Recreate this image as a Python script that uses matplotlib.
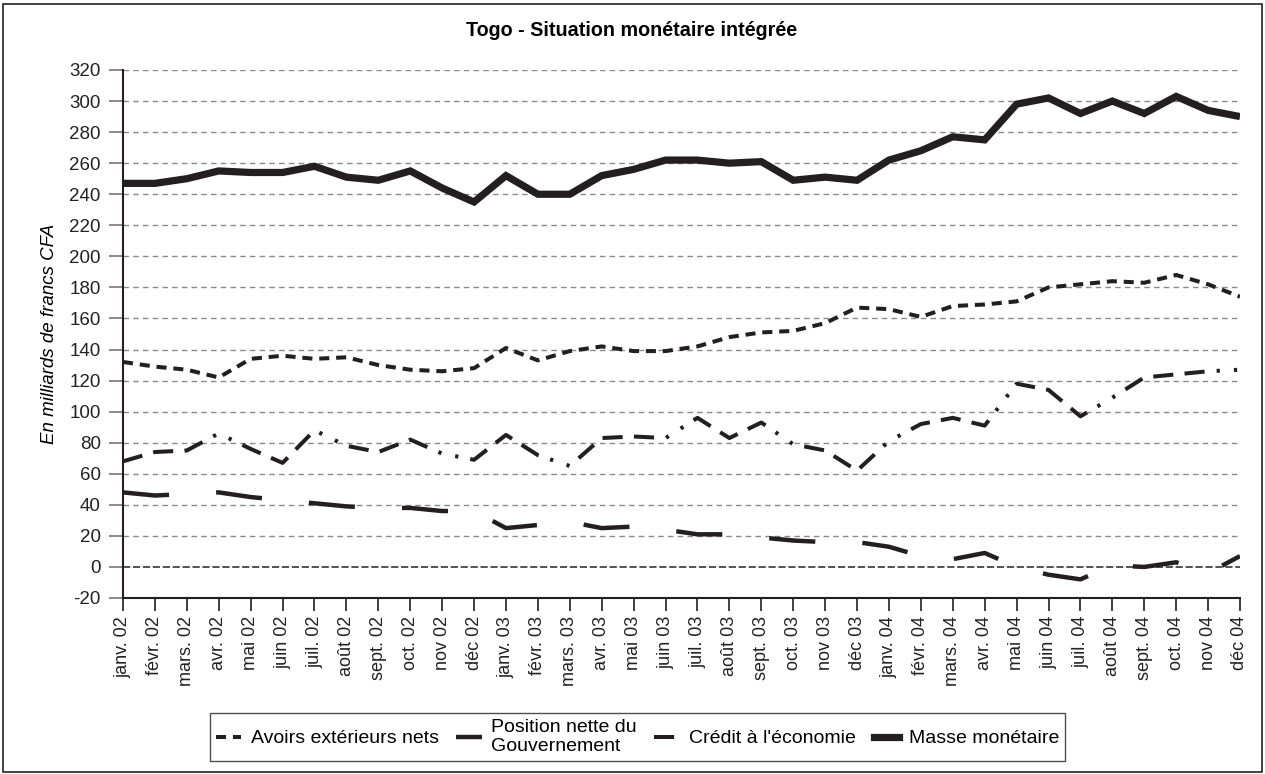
import matplotlib
matplotlib.use("Agg")
import matplotlib.pyplot as plt
from matplotlib.lines import Line2D
from matplotlib.patches import Rectangle

plt.rcParams["font.family"] = ["Liberation Sans", "DejaVu Sans"]

# mois de janv. 02 a dec. 04
mois = [
    "janv. 02", "févr. 02", "mars. 02", "avr. 02", "mai 02", "juin 02",
    "juil. 02", "août 02", "sept. 02", "oct. 02", "nov 02", "déc 02",
    "janv. 03", "févr. 03", "mars. 03", "avr. 03", "mai 03", "juin 03",
    "juil. 03", "août 03", "sept. 03", "oct. 03", "nov 03", "déc 03",
    "janv. 04", "févr. 04", "mars. 04", "avr. 04", "mai 04", "juin 04",
    "juil. 04", "août 04", "sept. 04", "oct. 04", "nov 04", "déc 04",
]

avoirs = [132, 129, 127, 122, 134, 136, 134, 135, 130, 127, 126, 128,
          141, 133, 139, 142, 139, 139, 142, 148, 151, 152, 157, 167,
          166, 161, 168, 169, 171, 180, 182, 184, 183, 188, 182, 174]

position = [48, 46, 47, 48, 45, 43, 41, 39, 38, 38, 36, 36,
            25, 27, 29, 25, 26, 24, 21, 21, 19, 17, 16, 16,
            13, 7, 5, 9, 0, -5, -8, 1, 0, 3, -4, 7]

credit = [68, 74, 75, 86, 76, 67, 88, 78, 74, 82, 73, 69,
          85, 72, 65, 83, 84, 83, 96, 83, 93, 79, 75, 62,
          81, 92, 96, 91, 118, 114, 97, 109, 122, 124, 126, 127]

masse = [247, 247, 250, 255, 254, 254, 258, 251, 249, 255, 244, 235,
         252, 240, 240, 252, 256, 262, 262, 260, 261, 249, 251, 249,
         262, 268, 277, 275, 298, 302, 292, 300, 292, 303, 294, 290]

noms = ["Avoirs extérieurs nets", "Position nette du\nGouvernement",
        "Crédit à l'économie", "Masse monétaire"]

y_ticks = list(range(-20, 321, 20))

COL = "#231f20"

fig = plt.figure(figsize=(12.65, 7.74), dpi=100)
ax = fig.add_axes([123 / 1265, 1 - 598 / 774, (1240 - 123) / 1265, (598 - 70) / 774])

x = list(range(len(mois)))

styles = [
    dict(lw=2.9, dashes=(2.5, 1.7)),
    dict(lw=3.2, dashes=(10.4, 10.6)),
    dict(lw=2.9, dashes=(5, 2.8, 5, 2.8, 5, 3, 0.8, 3.5, 0.8, 3)),
    dict(lw=5.2),
]
series = [avoirs, position, credit, masse]

for vals, st in zip(series, styles):
    if "dashes" in st:
        ax.plot(x, vals, color=COL, lw=st["lw"], dashes=st["dashes"],
                solid_joinstyle="miter", dash_capstyle="butt", zorder=3)
    else:
        ax.plot(x, vals, color=COL, lw=st["lw"], solid_joinstyle="miter",
                solid_capstyle="butt", zorder=3)

# grille
for v in y_ticks[1:]:
    if v == 0:
        ax.axhline(v, color="#444444", lw=1.3, dashes=(4, 1.5), zorder=1)
    else:
        ax.axhline(v, color="#8a8a8a", lw=1.0, dashes=(4, 3), zorder=1)

ax.set_xlim(0, len(mois) - 1)
ax.set_ylim(-20, 320)
ax.set_yticks(y_ticks)
ax.set_yticklabels([str(v) for v in y_ticks], fontsize=13.5, color="#222222")
ax.set_xticks(x)
ax.set_xticklabels(mois, rotation=90, fontsize=13, color="#222222")

ax.tick_params(axis="y", length=10, width=1.2, color="#777777", pad=6, direction="out")
ax.tick_params(axis="x", length=9, width=1.2, color=COL, pad=4, direction="out")

for s in ["top", "right"]:
    ax.spines[s].set_visible(False)
for s in ["left", "bottom"]:
    ax.spines[s].set_color(COL)
    ax.spines[s].set_linewidth(1.5)

ax.set_ylabel("En milliards de francs CFA", fontsize=13.5, style="italic", labelpad=8)

fig.text(632 / 1265, 1 - 30 / 774, "Togo - Situation monétaire intégrée",
         ha="center", va="center", fontsize=14.2, fontweight="bold")

handles = []
for st in styles:
    if "dashes" in st:
        handles.append(Line2D([], [], color=COL, lw=st["lw"], dashes=st["dashes"]))
    else:
        handles.append(Line2D([], [], color=COL, lw=st["lw"]))

leg = fig.legend(handles, noms, loc="center", bbox_to_anchor=(0.504, 0.048),
                 ncol=4, fontsize=14, frameon=True, fancybox=False,
                 edgecolor="#222222", handlelength=1.3, handletextpad=0.5,
                 columnspacing=0.9, borderpad=0.3, labelspacing=0.2)
leg.get_frame().set_linewidth(1.0)

# cadre du graphique
fig.add_artist(Rectangle((3 / 1265, 0.003), 1259 / 1265, 1 - 4 / 774 - 0.003,
                         transform=fig.transFigure, fill=False,
                         edgecolor="#222222", lw=1.2))

fig.savefig("out.png", dpi=100)
